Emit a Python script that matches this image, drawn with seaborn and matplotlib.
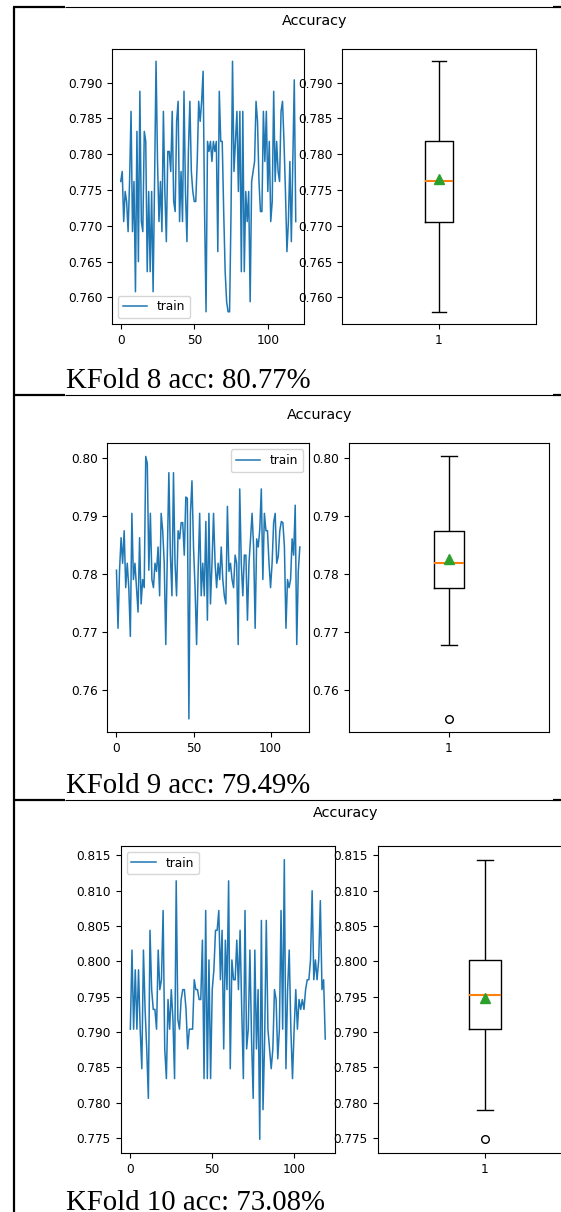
import matplotlib
matplotlib.use("Agg")
import matplotlib.pyplot as plt
import seaborn as sns
import numpy as np
from matplotlib.lines import Line2D
from matplotlib.ticker import MultipleLocator, FormatStrFormatter

# ---------------- data ----------------
acc_fold8 = [
    0.7762, 0.7776, 0.7706, 0.7748, 0.7734, 0.7692, 0.7762, 0.7860, 0.7692, 0.7762,
    0.7608, 0.7832, 0.7650, 0.7888, 0.7706, 0.7692, 0.7832, 0.7818, 0.7636, 0.7748,
    0.7636, 0.7748, 0.7608, 0.7762, 0.7930, 0.7790, 0.7706, 0.7762, 0.7692, 0.7860,
    0.7748, 0.7678, 0.7804, 0.7804, 0.7776, 0.7860, 0.7734, 0.7720, 0.7846, 0.7874,
    0.7706, 0.7776, 0.7706, 0.7888, 0.7748, 0.7678, 0.7804, 0.7874, 0.7776, 0.7748,
    0.7734, 0.7734, 0.7790, 0.7874, 0.7846, 0.7874, 0.7916, 0.7720, 0.7580, 0.7818,
    0.7804, 0.7818, 0.7790, 0.7818, 0.7804, 0.7818, 0.7664, 0.7888, 0.7818, 0.7818,
    0.7720, 0.7636, 0.7594, 0.7580, 0.7580, 0.7720, 0.7930, 0.7776, 0.7818, 0.7860,
    0.7748, 0.7860, 0.7636, 0.7860, 0.7636, 0.7748, 0.7706, 0.7748, 0.7594, 0.7762,
    0.7776, 0.7790, 0.7874, 0.7846, 0.7762, 0.7720, 0.7720, 0.7860, 0.7790, 0.7860,
    0.7748, 0.7818, 0.7706, 0.7734, 0.7888, 0.7762, 0.7818, 0.7776, 0.7762, 0.7860,
    0.7874, 0.7818, 0.7748, 0.7664, 0.7706, 0.7790, 0.7678, 0.7790, 0.7904, 0.7706,
]

acc_fold9 = [
    0.7806, 0.7706, 0.7806, 0.7862, 0.7818, 0.7874, 0.7776, 0.7818, 0.7776, 0.7692,
    0.7904, 0.7790, 0.7818, 0.7776, 0.7734, 0.7862, 0.7748, 0.7790, 0.7776, 0.8002,
    0.7990, 0.7806, 0.7904, 0.7790, 0.7776, 0.7818, 0.7804, 0.7846, 0.7762, 0.7904,
    0.7874, 0.7818, 0.7678, 0.7832, 0.7974, 0.7832, 0.7762, 0.7974, 0.7818, 0.7762,
    0.7874, 0.7860, 0.7888, 0.7888, 0.7832, 0.7932, 0.7930, 0.7550, 0.7904, 0.7960,
    0.7846, 0.7776, 0.7678, 0.7804, 0.7904, 0.7762, 0.7818, 0.7762, 0.7890, 0.7720,
    0.7904, 0.7748, 0.7818, 0.7904, 0.7818, 0.7776, 0.7818, 0.7790, 0.7846, 0.7790,
    0.7762, 0.7748, 0.7916, 0.7804, 0.7818, 0.7790, 0.7776, 0.7832, 0.7818, 0.7678,
    0.7946, 0.7818, 0.7762, 0.7832, 0.7832, 0.7720, 0.7818, 0.7860, 0.7904, 0.7846,
    0.7706, 0.7860, 0.7846, 0.7876, 0.7946, 0.7790, 0.7904, 0.7874, 0.7874, 0.7818,
    0.7776, 0.7818, 0.7888, 0.7904, 0.7818, 0.7830, 0.7874, 0.7890, 0.7888, 0.7846,
    0.7706, 0.7790, 0.7776, 0.7790, 0.7860, 0.7832, 0.7918, 0.7678, 0.7804, 0.7846,
]

acc_fold10 = [
    0.7904, 0.8016, 0.7904, 0.7988, 0.7904, 0.7988, 0.7904, 0.7848, 0.8016, 0.7932,
    0.7876, 0.7806, 0.8044, 0.7960, 0.7932, 0.7932, 0.7904, 0.8016, 0.7960, 0.7974,
    0.8072, 0.7876, 0.7834, 0.7946, 0.7904, 0.7960, 0.7918, 0.7834, 0.8114, 0.7918,
    0.7904, 0.7946, 0.7960, 0.7960, 0.7932, 0.7876, 0.7904, 0.7904, 0.7904, 0.7974,
    0.7960, 0.7960, 0.7946, 0.7946, 0.8030, 0.7834, 0.8072, 0.7834, 0.8002, 0.7834,
    0.7960, 0.7988, 0.8044, 0.8044, 0.8072, 0.7974, 0.8044, 0.7876, 0.8030, 0.7960,
    0.8114, 0.7848, 0.8002, 0.7974, 0.7974, 0.8030, 0.7960, 0.8044, 0.7932, 0.7834,
    0.8072, 0.7876, 0.7904, 0.8016, 0.7890, 0.7806, 0.8016, 0.7876, 0.7960, 0.7748,
    0.8058, 0.7790, 0.7890, 0.8058, 0.7904, 0.7876, 0.7848, 0.7876, 0.7960, 0.7946,
    0.7862, 0.7904, 0.8072, 0.7904, 0.8144, 0.7848, 0.7960, 0.8016, 0.7904, 0.7834,
    0.7904, 0.7960, 0.7904, 0.7946, 0.7932, 0.7946, 0.7932, 0.7960, 0.7974, 0.7974,
    0.8002, 0.8100, 0.7974, 0.8002, 0.7974, 0.8002, 0.8086, 0.7960, 0.7974, 0.7890,
]

fold_captions = ["KFold 8 acc: 80.77%", "KFold 9 acc: 79.49%", "KFold 10 acc: 73.08%"]
panel_title = "Accuracy"
series_label = "train"
box_category = "1"

# ---------------- layout ----------------
W, H = 561, 1212
fig = plt.figure(figsize=(W / 100, H / 100), dpi=100)
fig.patch.set_facecolor("white")


def axes_px(l, t, r, b):
    return fig.add_axes([l / W, 1 - b / H, (r - l) / W, (b - t) / H])


layout = [
    dict(left=(112, 48.7, 304.5, 324.3), right=(342.4, 48.7, 535.6, 324.3),
         title=(315, 20.7), cap_y=388, legend="lower left", ystep=0.005, yfmt="%.3f"),
    dict(left=(107.3, 443.3, 309, 732), right=(348.8, 443.3, 549.2, 732),
         title=(320, 415), cap_y=793, legend="upper right", ystep=0.01, yfmt="%.2f"),
    dict(left=(120.6, 845.7, 335, 1153.3), right=(377.5, 845.7, 592, 1153.3),
         title=(346, 813), cap_y=1210, legend="upper left", ystep=0.005, yfmt="%.3f"),
]

series = [acc_fold8, acc_fold9, acc_fold10]
TICK_FS = 8.7

for vals, cap, lay in zip(series, fold_captions, layout):
    epochs = np.arange(len(vals))
    # line plot
    ax1 = axes_px(*lay["left"])
    sns.lineplot(x=epochs, y=vals, ax=ax1, color="#1f77b4", linewidth=1.1,
                 label=series_label)
    ax1.legend(loc=lay["legend"], fontsize=TICK_FS)
    ax1.xaxis.set_major_locator(MultipleLocator(50))
    ax1.yaxis.set_major_locator(MultipleLocator(lay["ystep"]))
    ax1.yaxis.set_major_formatter(FormatStrFormatter(lay["yfmt"]))
    ax1.tick_params(labelsize=TICK_FS, length=3.5, width=0.8)
    ax1.set_xlabel("")
    ax1.set_ylabel("")

    # box plot
    ax2 = axes_px(*lay["right"])
    sns.boxplot(x=[box_category] * len(vals), y=vals, ax=ax2, fill=False,
                color="black", width=0.15, linewidth=1.0, showmeans=True,
                fliersize=5.5,
                meanprops=dict(marker="^", markerfacecolor="#2ca02c",
                               markeredgecolor="#2ca02c", markersize=7),
                medianprops=dict(color="#ff7f0e", linewidth=1.5),
                flierprops=dict(marker="o", markerfacecolor="none",
                                markeredgecolor="black"))
    ax2.yaxis.set_major_locator(MultipleLocator(lay["ystep"]))
    ax2.yaxis.set_major_formatter(FormatStrFormatter(lay["yfmt"]))
    ax2.tick_params(labelsize=TICK_FS, length=3.5, width=0.8)
    ax2.set_xlabel("")
    ax2.set_ylabel("")
    for sp in ax2.spines.values():
        sp.set_visible(True)

    tx, ty = lay["title"]
    fig.text(tx / W, 1 - ty / H, panel_title, fontsize=10.4, ha="center", va="center")
    fig.text(66 / W, 1 - lay["cap_y"] / H, cap, fontsize=20.7,
             family=["Liberation Serif", "DejaVu Serif"], ha="left", va="baseline")


# ---------------- table borders ----------------
def hline(y, x0, x1, lw):
    fig.add_artist(Line2D([x0 / W, x1 / W], [1 - y / H, 1 - y / H],
                          transform=fig.transFigure, color="black", lw=lw,
                          solid_capstyle="butt"))


for yy in (7.3, 394.5, 800.3):
    hline(yy, 13, 65, 1.6)
    hline(yy, 65, 553, 0.8)
    hline(yy, 553, 561, 1.6)

fig.add_artist(Line2D([14 / W, 14 / W], [1 - 6.5 / H, 0], transform=fig.transFigure,
                      color="black", lw=1.6, solid_capstyle="butt"))

fig.savefig("out.png", dpi=100, facecolor="white")
